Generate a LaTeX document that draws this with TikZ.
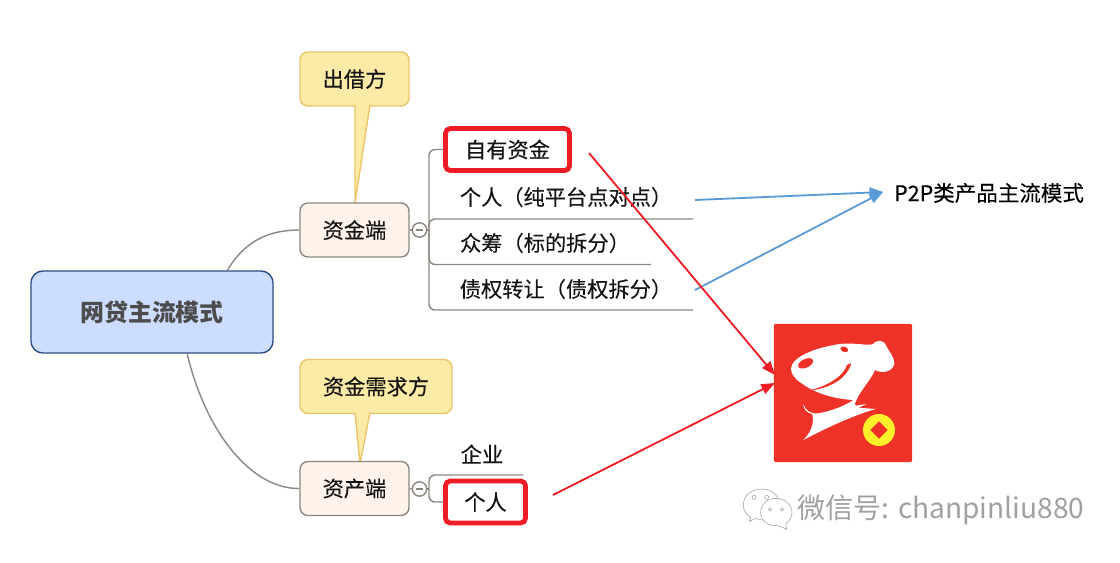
\documentclass[tikz,border=0pt]{standalone}
\usepackage{fontspec}
\setmainfont{Noto Sans CJK SC}
\newfontfamily\headfont{Noto Sans CJK SC}[FakeBold=0.25]
\usetikzlibrary{calc,arrows.meta}
\definecolor{notefill}{HTML}{FCEBA6}
\definecolor{noteline}{HTML}{EBC468}
\definecolor{subfill}{HTML}{FDF3EA}
\definecolor{subline}{HTML}{8C8880}
\definecolor{mainfill}{HTML}{CCDDFF}
\definecolor{mainline}{HTML}{2F4F7F}
\definecolor{markred}{HTML}{EE1C25}
\definecolor{bluearrow}{HTML}{5B9BD5}
\definecolor{logored}{HTML}{EE3228}
\definecolor{coinyellow}{HTML}{FFF02A}
\definecolor{wmgray}{HTML}{A0A0A0}
\tikzset{
	txt/.style={font=\headfont\fontsize{15.1}{15}\selectfont,text=black!92},
	mainbox/.style={draw=mainline,fill=mainfill,line width=1pt,rounded corners=0.3cm,minimum width=6.05cm,minimum height=2.05cm,font=\fontsize{17}{17}\selectfont\bfseries,text=black!70},
	subbox/.style={txt,draw=subline,fill=subfill,line width=1pt,rounded corners=0.2cm,minimum width=2.725cm,minimum height=1.35cm},
	notebox/.style={txt,draw=noteline,fill=notefill,line width=1pt,rounded corners=0.2cm,minimum height=1.35cm},
	notetail/.style={draw=noteline,fill=notefill,line width=1pt,line join=round},
	markbox/.style={txt,draw=markred,line width=3.4pt,fill=white,rounded corners=0.12cm,minimum height=1.03cm},
	branch/.style={draw=subline,line width=1pt,rounded corners=0.15cm},
	fold/.style={circle,draw=subline,line width=1pt,fill=white,inner sep=0pt,minimum size=0.36cm},
	bluearr/.style={draw=bluearrow,line width=1.3pt,-{Triangle[length=0.34cm,width=0.26cm]}},
	redarr/.style={draw=markred,line width=1.3pt,-{Triangle[length=0.34cm,width=0.26cm]}},
}
\newcommand{\foldmark}[1]{
	\draw[subline,line width=1pt] ($(#1)+(-3.5,0)$) -- ($(#1)+(3.5,0)$);
}
\begin{document}
\begin{tikzpicture}[x=0.025cm,y=-0.025cm]
	\useasboundingbox (0,0) rectangle (1120,562);

	% callouts, tails first
	\node (lender) at (354.5,79) [notebox,minimum width=2.725cm] {出借方};
	\node (borrower) at (376,386.5) [notebox,minimum width=3.8cm] {资金需求方};
	\coordinate (tipA) at (355,203);
	\coordinate (tipB) at (360,464);
	\draw[notetail] ($(lender.south)+(0.5,-2)$) -- (tipA) -- ($(lender.south)+(15.5,-2)$);
	\draw[notetail] ($(borrower.south)+(-21,-2)$) -- (tipB) -- ($(borrower.south)+(-6,-2)$);

	% main topic and curves
	\node (main) at (152,312) [mainbox] {网贷主流模式};
	\node (fund) at (354.5,230) [subbox] {资金端};
	\node (asset) at (354.5,488.5) [subbox] {资产端};
	\draw[subline,line width=1pt] (227,271) .. controls (245,240) and (270,230) .. (fund.west);
	\draw[subline,line width=1pt] (187,353) .. controls (205,430) and (250,489) .. (asset.west);

	% fold marks
	\node (foldA) at (419.5,230) [fold] {};
	\node (foldB) at (419.5,489) [fold] {};
	\foldmark{foldA}
	\foldmark{foldB}
	\draw[subline,line width=1pt] (fund.east) -- (foldA.west);
	\draw[subline,line width=1pt] (asset.east) -- (foldB.west);

	% upper branches
	\coordinate (trunkA) at (429,230);
	\coordinate (lineA) at (693,219);
	\coordinate (lineB) at (651,264.5);
	\coordinate (lineC) at (693,310);
	\node (own) at (507.5,149.5) [markbox,minimum width=3.1cm,minimum height=1.05cm] {自有资金};
	\node (person) at (566,197) [txt] {个人（纯平台点对点）};
	\node (crowd) at (545,243) [txt] {众筹（标的拆分）};
	\node (debt) at (566,289) [txt] {债权转让（债权拆分）};
	\draw[subline,line width=1pt] (foldA.east) -- (trunkA);
	\draw[branch] (own.west) -| (trunkA);
	\draw[branch] (lineA) -| (trunkA);
	\draw[branch] (lineB) -| (trunkA);
	\draw[branch] (lineC) -| (trunkA);

	% lower branches
	\coordinate (trunkB) at (429,489);
	\coordinate (lineD) at (523,475);
	\node (firm) at (482,454) [txt] {企业};
	\node (single) at (485.5,502) [markbox,minimum width=2cm,minimum height=1.05cm] {个人};
	\draw[subline,line width=1pt] (foldB.east) -- (trunkB);
	\draw[branch] (lineD) -| (trunkB);
	\draw[branch] (single.west) -| (trunkB);

	% logo
	\node (logo) at (843,393) [fill=logored,rounded corners=0.03cm,minimum width=3.45cm,minimum height=3.45cm,inner sep=0pt] {};
	\begin{scope}[shift={(785,335)},x=0.00833cm,y=-0.00833cm]
		\fill[white] (18,100) .. controls (22,65) and (90,38) .. (165,27)
			.. controls (205,22) and (240,32) .. (262,28)
			.. controls (275,15) and (295,10) .. (305,35)
			.. controls (312,50) and (328,65) .. (328,85)
			.. controls (325,108) and (295,118) .. (270,105)
			.. controls (255,140) and (225,165) .. (210,205)
			-- (212,212) -- (245,207) -- (220,218) -- (272,222)
			.. controls (225,235) and (150,265) .. (55,315)
			.. controls (80,290) and (88,262) .. (82,238)
			.. controls (65,232) and (55,222) .. (55,208)
			.. controls (62,225) and (75,238) .. (100,235)
			.. controls (140,228) and (180,212) .. (205,195)
			.. controls (150,192) and (90,175) .. (50,145)
			.. controls (30,132) and (18,118) .. (18,100) -- cycle;
		\fill[logored,rotate around={25:(62,85)}] (62,85) ellipse (24 and 13);
		\fill[logored,rotate around={-20:(178,43)}] (178,43) ellipse (12 and 8);
		\fill[logored] (68,167) .. controls (125,155) and (175,125) .. (186,90)
			-- (198,84) -- (196,94)
			.. controls (175,140) and (125,162) .. (68,167) -- cycle;
		\fill[coinyellow] (282,285) circle (48);
		\fill[logored] (282,259) -- (308,285) -- (282,311) -- (256,285) -- cycle;
	\end{scope}

	% arrows
	\node (ptop) at (989,193) [txt,text=black,font=\headfont\fontsize{15.3}{15}\selectfont] {P2P类产品主流模式};
	\coordinate (blueA) at (695,200);
	\coordinate (blueB) at (695,290);
	\coordinate (redA) at (589,153);
	\coordinate (redB) at (553,495);
	\coordinate (inA) at (775,375);
	\coordinate (inB) at (775,383);
	\draw[bluearr] (blueA) -- ($(ptop.west)+(-6,-1)$);
	\draw[bluearr] (blueB) -- ($(ptop.west)+(-6,-1)$);
	\draw[redarr] (redA) -- (inA);
	\draw[redarr] (redB) -- (inB);

	% watermark
	\begin{scope}[shift={(740,300)},x=0.00833cm,y=-0.00833cm]
		\draw[wmgray,fill=white] (65,567) .. controls (30,567) and (10,590) .. (10,615)
			.. controls (10,632) and (20,645) .. (32,652) -- (28,664) -- (45,656)
			.. controls (85,665) and (120,640) .. (118,610)
			.. controls (115,585) and (95,567) .. (65,567) -- cycle;
		\draw[wmgray,fill=white] (108,595) .. controls (80,595) and (62,615) .. (62,638)
			.. controls (62,662) and (85,680) .. (115,677) -- (140,688) -- (137,672)
			.. controls (150,662) and (156,650) .. (156,638)
			.. controls (156,615) and (135,595) .. (108,595) -- cycle;
		\draw[wmgray] (42,592) circle (6);
		\draw[wmgray] (80,592) circle (6);
		\draw[wmgray] (90,628) circle (5);
		\draw[wmgray] (126,628) circle (5);
	\end{scope}
	\node (mark) at (941,510) [font=\fontsize{20}{20}\selectfont,text=wmgray] {微信号: chanpinliu880};
\end{tikzpicture}
\end{document}
